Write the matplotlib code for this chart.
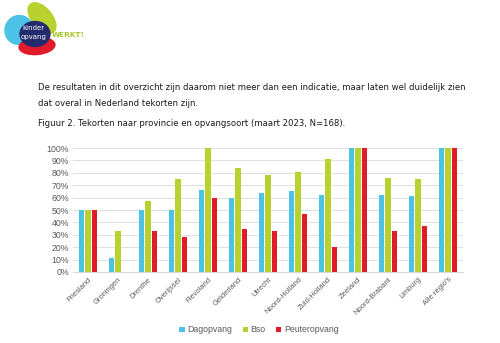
import matplotlib
matplotlib.use('Agg')
import matplotlib.pyplot as plt
import numpy as np
from matplotlib.patches import Ellipse

# ── Data ────────────────────────────────────────────────────────────
provincies = ['Friesland', 'Groningen', 'Drenthe', 'Overijssel', 'Flevoland',
              'Gelderland', 'Utrecht', 'Noord-Holland', 'Zuid-Holland', 'Zeeland',
              'Noord-Brabant', 'Limburg', "Alle regio's"]
dagopvang    = [50, 11, 50, 50, 66, 60, 64, 65, 62, 100, 62, 61, 100]
bso          = [50, 33, 57, 75, 100, 84, 78, 81, 91, 100, 76, 75, 100]
peuteropvang = [50, 0, 33, 28, 60, 35, 33, 47, 20, 100, 33, 37, 100]
series_names = ['Dagopvang', 'Bso', 'Peuteropvang']
yticks = list(range(0, 101, 10))

c_blue, c_green, c_red = '#4cc3e6', '#b8d12e', '#e11b2a'

fig = plt.figure(figsize=(5, 3.43), dpi=100)

# ── Page overlay (pixel coords) for logo and text ──────────────────
bg = fig.add_axes([0, 0, 1, 1], zorder=0)
bg.set_xlim(0, 500)
bg.set_ylim(343, 0)
bg.axis('off')

bg.add_patch(Ellipse((42, 18), 20, 36, angle=-40, color=c_green))
bg.add_patch(Ellipse((19, 30), 28, 29, angle=20, color=c_blue))
bg.add_patch(Ellipse((37, 46), 36, 17, angle=-5, color=c_red))
bg.add_patch(Ellipse((35, 34), 30, 25, color='#232a6e'))
bg.text(22, 28, 'kinder', color='white', fontsize=5.0, va='center')
bg.text(21, 37, 'opvang', color='white', fontsize=5.0, va='center')
bg.text(52, 35, 'WERKT!', color='#a8c62a', fontsize=5.3, fontweight='bold', va='center')

body = dict(fontsize=6.1, color='#1a1a1a', va='center', family='DejaVu Sans')
bg.text(38, 88, 'De resultaten in dit overzicht zijn daarom niet meer dan een indicatie, '
        'maar laten wel duidelijk zien', **body)
bg.text(38, 103, 'dat overal in Nederland tekorten zijn.', **body)
bg.text(38, 124, 'Figuur 2. Tekorten naar provincie en opvangsoort (maart 2023, N=168).', **body)

# ── Bar chart ───────────────────────────────────────────────────────
ax = fig.add_axes([0.146, 0.207, 0.78, 0.3615], zorder=1)
ax.patch.set_alpha(0)
x = np.arange(len(provincies))
w = 0.17
off = 0.215
ax.bar(x - off, dagopvang, w, color=c_blue, label=series_names[0], zorder=3)
ax.bar(x, bso, w, color=c_green, label=series_names[1], zorder=3)
ax.bar(x + off, peuteropvang, w, color=c_red, label=series_names[2], zorder=3)

ax.set_xlim(-0.5, len(provincies) - 0.5)
ax.set_ylim(0, 100)
ax.set_yticks(yticks)
ax.set_yticklabels([f'{v}%' for v in yticks], fontsize=6.3, color='#595959',
                   family='Liberation Sans')
ax.set_xticks(x)
ax.set_xticklabels(provincies, rotation=45, ha='right', rotation_mode='anchor',
                   fontsize=5.4, color='#595959', family='Liberation Sans')
ax.tick_params(length=0, pad=3)
ax.grid(axis='y', color='#e0e0e0', linewidth=0.7, zorder=0)
for s in ['top', 'right', 'left']:
    ax.spines[s].set_visible(False)
ax.spines['bottom'].set_color('#d9d9d9')

fig.legend(loc='center', bbox_to_anchor=(0.518, 0.038), ncol=3, frameon=False,
           handlelength=0.6, handleheight=0.6, handletextpad=0.3,
           columnspacing=1.2, prop={'family': 'Liberation Sans', 'size': 6.3},
           labelcolor='#595959')

plt.savefig('out.png', dpi=100)
